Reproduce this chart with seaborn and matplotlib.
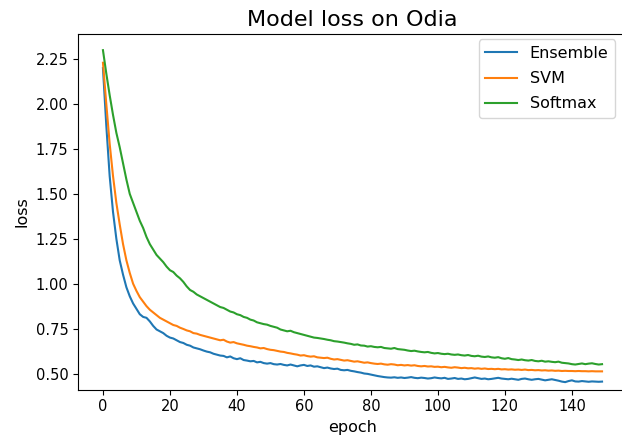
import matplotlib
matplotlib.use("Agg")
import matplotlib.pyplot as plt
import seaborn as sns
import pandas as pd

series_names = ["Ensemble", "SVM", "Softmax"]
colors = ["#1f77b4", "#ff7f0e", "#2ca02c"]

ensemble = [
    2.20, 1.88, 1.60, 1.40, 1.25, 1.13, 1.05, 0.98, 0.93, 0.89,
    0.86, 0.83, 0.815, 0.81, 0.79, 0.765, 0.745, 0.735, 0.725, 0.71,
    0.70, 0.695, 0.685, 0.675, 0.67, 0.66, 0.655, 0.645, 0.64, 0.635,
    0.628, 0.622, 0.618, 0.61, 0.605, 0.60, 0.598, 0.59, 0.595, 0.585,
    0.58, 0.585, 0.575, 0.572, 0.568, 0.57, 0.562, 0.565, 0.558, 0.555,
    0.558, 0.552, 0.55, 0.553, 0.548, 0.545, 0.55, 0.545, 0.54, 0.545,
    0.548, 0.542, 0.545, 0.538, 0.54, 0.535, 0.53, 0.533, 0.528, 0.525,
    0.527, 0.52, 0.518, 0.52, 0.515, 0.512, 0.508, 0.505, 0.50, 0.498,
    0.494, 0.49, 0.486, 0.483, 0.48, 0.478, 0.477, 0.479, 0.476, 0.478,
    0.475, 0.477, 0.48, 0.476, 0.474, 0.477, 0.475, 0.472, 0.474, 0.478,
    0.475, 0.473, 0.476, 0.47, 0.472, 0.475, 0.47, 0.472, 0.468, 0.47,
    0.474, 0.478, 0.474, 0.47, 0.472, 0.468, 0.47, 0.473, 0.476, 0.472,
    0.47, 0.468, 0.471, 0.468, 0.465, 0.47, 0.472, 0.468, 0.465, 0.468,
    0.47, 0.466, 0.462, 0.465, 0.468, 0.464, 0.46, 0.455, 0.452, 0.458,
    0.462, 0.456, 0.455, 0.458, 0.456, 0.454, 0.456, 0.455, 0.454, 0.455,
]

svm = [
    2.23, 2.00, 1.78, 1.60, 1.45, 1.33, 1.22, 1.13, 1.06, 1.00,
    0.96, 0.925, 0.90, 0.875, 0.855, 0.84, 0.825, 0.81, 0.80, 0.79,
    0.78, 0.77, 0.765, 0.755, 0.748, 0.74, 0.735, 0.725, 0.722, 0.715,
    0.71, 0.705, 0.70, 0.695, 0.69, 0.685, 0.688, 0.678, 0.672, 0.675,
    0.668, 0.664, 0.66, 0.655, 0.652, 0.648, 0.645, 0.64, 0.642, 0.636,
    0.632, 0.63, 0.626, 0.622, 0.62, 0.615, 0.612, 0.608, 0.605, 0.60,
    0.602, 0.597, 0.594, 0.596, 0.59, 0.588, 0.586, 0.588, 0.582, 0.578,
    0.58, 0.576, 0.572, 0.574, 0.57, 0.566, 0.568, 0.564, 0.56, 0.562,
    0.558, 0.555, 0.553, 0.555, 0.551, 0.549, 0.552, 0.55, 0.546, 0.548,
    0.545, 0.547, 0.544, 0.546, 0.542, 0.54, 0.542, 0.539, 0.54, 0.537,
    0.538, 0.535, 0.537, 0.534, 0.532, 0.535, 0.533, 0.53, 0.532, 0.529,
    0.53, 0.527, 0.529, 0.526, 0.528, 0.525, 0.526, 0.524, 0.526, 0.523,
    0.524, 0.522, 0.523, 0.521, 0.522, 0.52, 0.522, 0.519, 0.52, 0.518,
    0.519, 0.517, 0.518, 0.516, 0.517, 0.515, 0.516, 0.514, 0.515, 0.514,
    0.514, 0.513, 0.514, 0.513, 0.513, 0.512, 0.513, 0.512, 0.512, 0.512,
]

softmax = [
    2.30, 2.17, 2.05, 1.94, 1.84, 1.76, 1.67, 1.58, 1.50, 1.45,
    1.40, 1.35, 1.31, 1.26, 1.22, 1.19, 1.16, 1.14, 1.12, 1.095,
    1.075, 1.065, 1.045, 1.03, 1.01, 0.985, 0.965, 0.955, 0.94, 0.93,
    0.92, 0.91, 0.90, 0.89, 0.88, 0.87, 0.865, 0.855, 0.845, 0.84,
    0.83, 0.825, 0.815, 0.81, 0.80, 0.795, 0.785, 0.78, 0.775, 0.772,
    0.765, 0.76, 0.755, 0.745, 0.74, 0.735, 0.738, 0.73, 0.725, 0.72,
    0.715, 0.71, 0.705, 0.70, 0.698, 0.695, 0.692, 0.688, 0.685, 0.68,
    0.678, 0.675, 0.672, 0.668, 0.665, 0.66, 0.662, 0.656, 0.655, 0.65,
    0.652, 0.648, 0.646, 0.648, 0.642, 0.64, 0.638, 0.642, 0.636, 0.634,
    0.632, 0.628, 0.625, 0.627, 0.623, 0.62, 0.618, 0.62, 0.615, 0.612,
    0.614, 0.61, 0.608, 0.61, 0.606, 0.604, 0.606, 0.602, 0.60, 0.603,
    0.598, 0.596, 0.599, 0.594, 0.592, 0.595, 0.59, 0.588, 0.591, 0.585,
    0.582, 0.586, 0.58, 0.578, 0.575, 0.578, 0.574, 0.572, 0.575, 0.57,
    0.568, 0.571, 0.566, 0.568, 0.565, 0.563, 0.566, 0.56, 0.558, 0.556,
    0.552, 0.55, 0.553, 0.556, 0.552, 0.555, 0.557, 0.553, 0.55, 0.552,
]

epochs = list(range(len(ensemble)))
x_ticks = [0, 20, 40, 60, 80, 100, 120, 140]
y_ticks = [0.50, 0.75, 1.00, 1.25, 1.50, 1.75, 2.00, 2.25]
y_tick_labels = ["0.50", "0.75", "1.00", "1.25", "1.50", "1.75", "2.00", "2.25"]

df = pd.concat([
    pd.DataFrame({"epoch": epochs, "loss": vals, "model": name})
    for name, vals in zip(series_names, [ensemble, svm, softmax])
], ignore_index=True)

W, H = 622, 442
fig = plt.figure(figsize=(W / 100, H / 100), dpi=100)
ax_left, ax_right, ax_top, ax_bottom = 78, 627, 34, 389.5
ax = fig.add_axes([ax_left / W, 1 - ax_bottom / H,
                   (ax_right - ax_left) / W, (ax_bottom - ax_top) / H])

sns.lineplot(data=df, x="epoch", y="loss", hue="model", hue_order=series_names,
             palette=colors, linewidth=1.5, ax=ax, legend=True)

ax.set_xlim(-7.45, 156.45)
ax.set_ylim(0.411, 2.39)
ax.set_xticks(x_ticks)
ax.set_yticks(y_ticks)
ax.set_yticklabels(y_tick_labels)
ax.tick_params(labelsize=10.5)
ax.set_xlabel("epoch", fontsize=11.5)
ax.set_ylabel("loss", fontsize=11.5)
ax.set_title("Model loss on Odia", fontsize=16, pad=6)

handles, labels = ax.get_legend_handles_labels()
# anchor the legend's right edge at x=615 px
anchor_x = (615 - ax_left) / (ax_right - ax_left)
ax.legend(handles, labels, loc="upper right", fontsize=11.5, labelspacing=0.65,
          bbox_to_anchor=(anchor_x, 0.985), borderaxespad=0.0)

fig.savefig("out.png", dpi=100)
